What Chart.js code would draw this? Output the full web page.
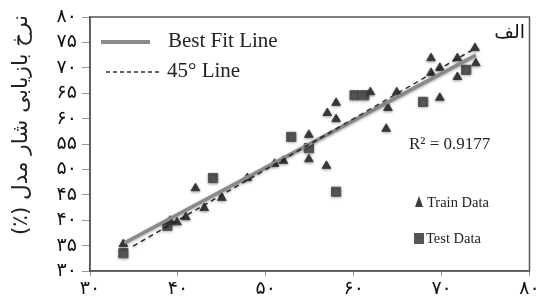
<!DOCTYPE html>
<html>
<head>
<meta charset="utf-8">
<script src="https://cdn.jsdelivr.net/npm/chart.js@4/dist/chart.umd.min.js"></script>
<style>
  body { margin: 0; background: #fff; }
</style>
</head>
<body>
<canvas id="chart" width="537" height="307"></canvas>
<script>
const trainX = [33.8, 39.1, 39.9, 40.9, 42.0, 43.0, 45.0, 47.9, 51.0, 52.0, 54.9, 54.9, 56.9, 57.0, 58.0, 58.0,
    61.9, 63.9, 63.7, 64.9, 69.8, 68.8, 68.8, 69.8, 71.8, 71.8, 73.8, 73.9];
const trainY = [35.3, 39.9, 39.6, 40.6, 46.3, 42.4, 44.4, 48.3, 51.1, 51.7, 56.8, 52.0, 50.7, 61.1, 63.1, 59.9,
    65.2, 62.1, 58.0, 65.2, 64.1, 71.9, 69.0, 70.0, 71.9, 68.2, 73.9, 70.9];
const testX = [33.8, 38.8, 44.0, 52.9, 54.9, 58.0, 60.1, 61.2, 67.9, 72.8];
const testY = [33.5, 38.9, 48.3, 56.4, 54.2, 45.6, 64.6, 64.6, 63.3, 69.6];
const fitX = [33.9, 73.9];
const fitY = [35.5, 72.5];
const diagX = [34.9, 73.5];
const diagY = [34.9, 73.5];
const xTicks = [30, 40, 50, 60, 70, 80];
const yTicks = [30, 35, 40, 45, 50, 55, 60, 65, 70, 75, 80];
const yTitle = "نرخ بازیابی شار مدل (٪)";
const rSquared = "R² = 0.9177";

const faDigits = "۰۱۲۳۴۵۶۷۸۹";
function toFa(n) {
    return String(n).replace(/[0-9]/g, d => faDigits[d]);
}
function pts(xs, ys) {
    return xs.map((x, i) => ({ x: x, y: ys[i] }));
}

const serif = "'Liberation Serif', 'DejaVu Serif', serif";
const fa = "'DejaVu Sans', sans-serif";

const extras = {
    id: "extras",
    beforeDatasetsDraw(chart) {
        chart.ctx.save();
        chart.ctx.shadowColor = "rgba(0,0,0,0.35)";
        chart.ctx.shadowBlur = 3;
        chart.ctx.shadowOffsetY = 1;
    },
    afterDatasetsDraw(chart) {
        chart.ctx.restore();
    },
    afterDraw(chart) {
        const ctx = chart.ctx;
        const a = chart.chartArea;
        ctx.save();
        // frame
        ctx.strokeStyle = "#555";
        ctx.lineWidth = 1.5;
        ctx.strokeRect(a.left, a.top, a.right - a.left, a.bottom - a.top);

        // legend for lines
        ctx.strokeStyle = "#8a8a8a";
        ctx.lineWidth = 4;
        ctx.beginPath();
        ctx.moveTo(101, 42); ctx.lineTo(150, 42); ctx.stroke();
        ctx.strokeStyle = "#333";
        ctx.lineWidth = 1.3;
        ctx.setLineDash([4, 3]);
        ctx.beginPath();
        ctx.moveTo(106, 72); ctx.lineTo(160, 72); ctx.stroke();
        ctx.setLineDash([]);

        ctx.fillStyle = "#222";
        ctx.font = "21px " + serif;
        ctx.textBaseline = "middle";
        ctx.textAlign = "left";
        ctx.fillText("Best Fit Line", 168, 41);
        ctx.fillText("45° Line", 167, 71);

        ctx.font = "17px " + serif;
        ctx.fillText(rSquared, 409, 145);

        ctx.font = "14.5px " + serif;
        ctx.fillText("Train Data", 427, 203);
        ctx.fillText("Test Data", 426, 239);

        // legend markers
        ctx.fillStyle = "#3c3c3c";
        ctx.beginPath();
        ctx.moveTo(419, 196); ctx.lineTo(423, 207); ctx.lineTo(415, 207);
        ctx.closePath(); ctx.fill();
        ctx.fillStyle = "#555";
        ctx.fillRect(414, 233, 10, 11);

        ctx.fillStyle = "#111";
        ctx.font = "19px " + fa;
        ctx.textAlign = "right";
        ctx.fillText("الف", 525, 33);

        // y axis title, right-to-left
        ctx.translate(21, 125);
        ctx.rotate(-Math.PI / 2);
        ctx.direction = "rtl";
        ctx.textAlign = "center";
        ctx.fillStyle = "#222";
        ctx.font = "21.5px " + fa;
        ctx.fillText(yTitle, 0, 0);
        ctx.restore();
    }
};

new Chart(document.getElementById("chart"), {
    type: "scatter",
    data: {
        datasets: [
            {
                type: "line",
                data: pts(fitX, fitY),
                borderColor: "#8a8a8a",
                borderWidth: 3.5,
                pointRadius: 0,
                order: 1
            },
            {
                type: "line",
                data: pts(diagX, diagY),
                borderColor: "#222",
                borderWidth: 1.4,
                borderDash: [5, 4],
                pointRadius: 0,
                order: 0
            },
            {
                data: pts(trainX, trainY),
                pointStyle: "triangle",
                pointRadius: 5,
                backgroundColor: "#3c3c3c",
                borderColor: "#3c3c3c",
                order: 2
            },
            {
                data: pts(testX, testY),
                pointStyle: "rect",
                pointRadius: 6.5,
                backgroundColor: "#555",
                borderColor: "#555",
                order: 3
            }
        ]
    },
    options: {
        responsive: false,
        animation: false,
        devicePixelRatio: 1,
        layout: { padding: { top: 17, right: 4, left: 0, bottom: 0 } },
        plugins: {
            legend: { display: false },
            tooltip: { enabled: false }
        },
        scales: {
            x: {
                type: "linear",
                min: 30,
                max: 80,
                afterBuildTicks: s => { s.ticks = xTicks.map(v => ({ value: v })); },
                afterFit: s => { s.height = 36; s.paddingLeft = 0; s.paddingRight = 0; },
                grid: { drawOnChartArea: false, tickLength: 5, color: "#999" },
                border: { color: "#555", width: 1.5 },
                ticks: {
                    callback: v => toFa(v),
                    color: "#111",
                    font: { family: fa, size: 19 },
                    padding: 2,
                    maxRotation: 0,
                    autoSkip: false
                }
            },
            y: {
                min: 30,
                max: 80,
                afterBuildTicks: s => { s.ticks = yTicks.map(v => ({ value: v })); },
                afterFit: s => { s.width = 90; s.paddingTop = 0; s.paddingBottom = 0; },
                grid: { drawOnChartArea: false, tickLength: 8, color: "#999" },
                border: { color: "#555", width: 1.5 },
                ticks: {
                    callback: v => toFa(v),
                    color: "#111",
                    font: { family: fa, size: 19 },
                    padding: 5,
                    autoSkip: false
                }
            }
        }
    },
    plugins: [extras]
});
</script>
</body>
</html>
